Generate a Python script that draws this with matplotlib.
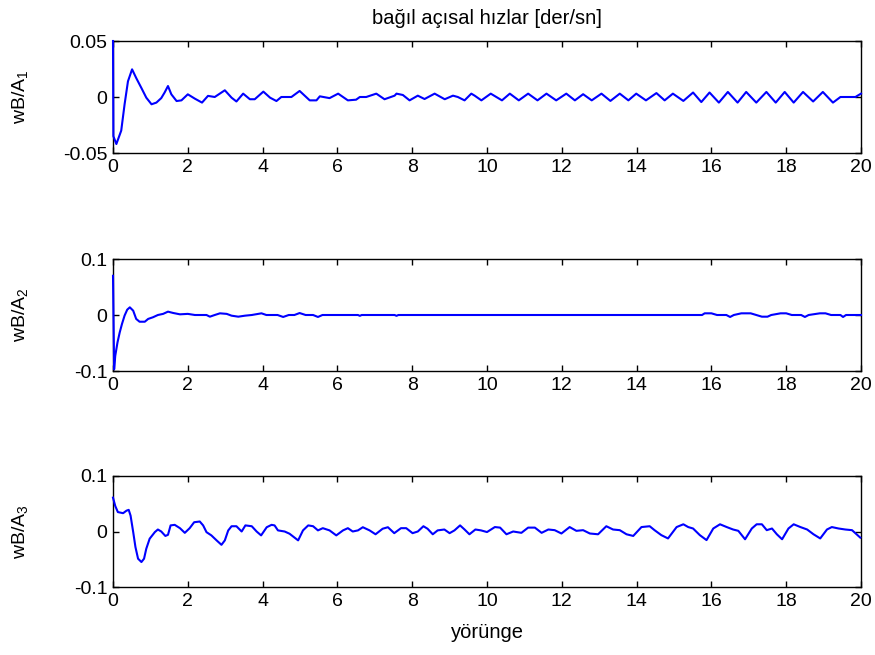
import matplotlib
matplotlib.use("Agg")
import matplotlib.pyplot as plt

plt.rcParams['font.family'] = ['Liberation Sans', 'DejaVu Sans']
plt.rcParams['mathtext.fontset'] = 'custom'
plt.rcParams['mathtext.rm'] = 'Liberation Sans'
plt.rcParams['mathtext.it'] = 'Liberation Sans'
plt.rcParams['axes.unicode_minus'] = False

title = "bağıl açısal hızlar [der/sn]"
xlabel = "yörünge"
ylabels = [r"wB/A$_\mathrm{1}$", r"wB/A$_\mathrm{2}$", r"wB/A$_\mathrm{3}$"]
xticks = [0, 2, 4, 6, 8, 10, 12, 14, 16, 18, 20]
yticks1 = [-0.05, 0, 0.05]
ytick_labels1 = ["-0.05", "0", "0.05"]
yticks23 = [-0.1, 0, 0.1]
ytick_labels23 = ["-0.1", "0", "0.1"]

# panel 1
t1 = [0, 0.01, 0.09, 0.22, 0.31, 0.4, 0.51, 0.62, 0.76, 0.89, 1.03, 1.16, 1.29, 1.38, 1.47,
      1.56, 1.7, 1.83, 2.0, 2.19, 2.38, 2.54, 2.72, 2.99, 3.17, 3.3, 3.48, 3.66, 3.79, 4.02,
      4.2, 4.37, 4.5, 4.77, 4.99, 5.26, 5.44, 5.53, 5.79, 6.02, 6.28, 6.5, 6.6, 6.77, 7.04,
      7.26, 7.53, 7.58, 7.75, 7.93, 8.15, 8.33, 8.6, 8.87, 9.09, 9.22, 9.4, 9.58, 9.67, 9.85,
      10.1, 10.4, 10.61, 10.85, 11.1, 11.35, 11.59, 11.85, 12.12, 12.35, 12.57, 12.8, 13.06,
      13.3, 13.55, 13.78, 13.99, 14.25, 14.53, 14.75, 14.97, 15.25, 15.51, 15.73, 15.95, 16.2,
      16.44, 16.7, 16.93, 17.2, 17.47, 17.72, 17.96, 18.2, 18.45, 18.72, 18.98, 19.25, 19.45,
      19.85, 20.0]
w1 = [0.05, -0.035, -0.042, -0.03, -0.0065, 0.014, 0.0247, 0.017, 0.008, -0.0006, -0.0065,
      -0.005, -0.001, 0.004, 0.0098, 0.0024, -0.0036, -0.003, 0.0024, -0.0015, -0.005, 0.001,
      0, 0.006, -0.0006, -0.004, 0.003, -0.002, -0.002, 0.0048, -0.0006, -0.0036, 0, 0,
      0.0054, -0.003, -0.003, 0.0006, -0.001, 0.003, -0.003, -0.0024, 0, 0, 0.003, -0.002,
      0.0012, 0.003, 0.0018, -0.003, 0.0012, -0.0018, 0.003, -0.002, 0.0012, 0, -0.003, 0.003,
      0.0012, -0.003,
      0.003, -0.003, 0.003, -0.003, 0.003, -0.003, 0.003, -0.003, 0.003, -0.003, 0.0025,
      -0.003, 0.003, -0.0035, 0.003, -0.003, 0.003, -0.003, 0.0035, -0.003, 0.003, -0.0035,
      0.004, -0.0045, 0.004, -0.005, 0.0045, -0.005, 0.0045, -0.005, 0.0045, -0.005, 0.0045,
      -0.005, 0.0045, -0.004, 0.0045, -0.005, 0, 0, 0.003]

# panel 2
t2 = [0, 0.03, 0.06, 0.12, 0.18, 0.24, 0.31, 0.38, 0.45, 0.54, 0.62, 0.71, 0.85, 0.94, 1.07,
      1.2, 1.34, 1.47, 1.61, 1.79, 2.0, 2.19, 2.5, 2.59, 2.72, 2.86, 3.04, 3.17, 3.35, 3.53,
      3.71, 3.97, 4.1, 4.4, 4.55, 4.7, 4.85, 4.99, 5.15, 5.35, 5.48, 5.6, 6.55, 6.6, 6.65,
      7.53, 7.58, 7.63, 15.75, 15.82, 16.0, 16.15, 16.4, 16.5, 16.6, 16.8, 17.05, 17.2, 17.35,
      17.5, 17.6, 17.85, 18.0, 18.15, 18.4, 18.5, 18.6, 18.9, 19.05, 19.2, 19.45, 19.52, 19.6,
      20.0]
w2 = [0.07, -0.097, -0.073, -0.049, -0.031, -0.016, -0.001, 0.0095, 0.0137, 0.0077, -0.007,
      -0.012, -0.012, -0.007, -0.004, 0, 0.002, 0.006, 0.0036, 0.0012, 0.002, 0, 0, -0.003, 0,
      0.003, 0.002, -0.0012, -0.003, -0.0012, 0, 0.003, 0, 0, -0.0035, 0, 0, 0.0035, 0, 0,
      -0.0035, 0, 0, -0.0015, 0, 0, -0.0015, 0, 0, 0.003, 0.003, 0, 0, -0.0035, 0, 0.003,
      0.003, 0, -0.003, -0.003, 0, 0.003, 0.003, 0, 0, -0.0035, 0, 0.003, 0.003, 0, 0,
      -0.0035, 0, 0]

# panel 3
t3 = [0, 0.06, 0.13, 0.27, 0.36, 0.42, 0.47, 0.54, 0.6, 0.67, 0.76, 0.83, 0.89, 0.98, 1.12,
      1.2, 1.29, 1.4, 1.47, 1.54, 1.65, 1.79, 1.92, 2.05, 2.17, 2.32, 2.41, 2.5, 2.63, 2.77,
      2.9, 2.99, 3.08, 3.17, 3.3, 3.44, 3.54, 3.71, 3.84, 3.96, 4.11, 4.24, 4.32, 4.41, 4.59,
      4.72, 4.95, 5.08, 5.22, 5.35, 5.48, 5.61, 5.79, 5.97, 6.15, 6.28, 6.41, 6.55, 6.68, 6.86,
      7.02, 7.21, 7.35, 7.52, 7.7, 7.84, 8.01, 8.15, 8.3, 8.41, 8.55, 8.68, 8.86, 9.0, 9.13,
      9.28, 9.4, 9.53, 9.69, 9.84, 10.0, 10.21, 10.35, 10.52, 10.7, 10.92, 11.1, 11.28, 11.46,
      11.64, 11.81, 11.99, 12.21, 12.39, 12.57, 12.75, 12.97, 13.19, 13.37, 13.55, 13.73,
      13.91, 14.13, 14.35, 14.48, 14.66, 14.84, 15.07, 15.25, 15.38, 15.51, 15.69, 15.87,
      16.05, 16.23, 16.41, 16.58, 16.72, 16.9, 17.08, 17.21, 17.35, 17.48, 17.62, 17.75, 17.89,
      18.06, 18.2, 18.38, 18.56, 18.73, 18.91, 19.09, 19.22, 19.4, 19.58, 19.76, 19.98]
w3 = [0.061, 0.046, 0.035, 0.033, 0.0375, 0.039, 0.0286, -0.001, -0.028, -0.049, -0.055,
      -0.049, -0.031, -0.013, -0.001, 0.0036, 0, -0.008, -0.006, 0.011, 0.012, 0.006, -0.0024,
      0.006, 0.0167, 0.018, 0.011, -0.0012, -0.007, -0.016, -0.024, -0.016, 0.0018, 0.0095,
      0.0095, 0, 0.011, 0.0095, 0, -0.007, 0.0077, 0.012, 0.011, 0.002, 0, -0.004, -0.016,
      0.002, 0.011, 0.0095, 0.002, 0.006, 0.002, -0.007, 0.002, 0.006, 0, 0.002, 0.0077, 0.002,
      -0.005, 0.005, 0.0077, -0.003, 0.006, 0.006, -0.003, 0, 0.0095, 0.005, -0.005, 0.002,
      0.0036, -0.003, 0.002, 0.011, 0.0036, -0.005, 0.0036, 0.002, -0.001, 0.008, 0.007,
      -0.005, 0, -0.0024, 0.007, 0.007, -0.0024, 0.0036, 0.0024, -0.0036, 0.008, 0.0012,
      0.0024, -0.0036, -0.005, 0.0095, 0.0036, 0.0024, -0.005, -0.008, 0.008, 0.0095, 0.0024,
      -0.0065, -0.0125, 0.008, 0.013, 0.008, 0.0054, -0.0065, -0.0155, 0.0054, 0.013, 0.008,
      0.0036, 0.0012, -0.014, 0.0054, 0.013, 0.013, 0.0024, 0.0054, -0.005, -0.014, 0.0054,
      0.013, 0.008, 0.0036, -0.005, -0.0125, 0.0036, 0.008, 0.0054, 0.0036, 0.0024, -0.011]

W, H = 875, 655
fig = plt.figure(figsize=(W / 100, H / 100), dpi=100)
left = 113 / W
width = (861 - 113) / W
rows = [(41, 153), (259, 371), (476, 587)]
series = [(t1, w1), (t2, w2), (t3, w3)]
ylims = [(-0.05, 0.05), (-0.1, 0.1), (-0.1, 0.1)]
yt = [(yticks1, ytick_labels1), (yticks23, ytick_labels23), (yticks23, ytick_labels23)]

axes = []
for i, ((top, bot), (tt, ww)) in enumerate(zip(rows, series)):
    ax = fig.add_axes([left, 1 - bot / H, width, (bot - top) / H])
    ax.plot(tt, ww, color=(0, 0, 1), linewidth=1.5, zorder=3, clip_on=False)
    ax.set_xlim(0, 20)
    ax.set_ylim(*ylims[i])
    ax.set_xticks(xticks)
    ax.set_xticklabels([str(x) for x in xticks])
    ax.set_yticks(yt[i][0])
    ax.set_yticklabels(yt[i][1])
    ax.tick_params(direction='in', top=True, right=True, length=4.5, width=1,
                   labelsize=14, pad=4)
    for s in ax.spines.values():
        s.set_linewidth(1)
    ax.set_ylabel(ylabels[i], fontsize=14)
    ax.yaxis.set_label_coords(-0.111, 0.5)
    axes.append(ax)

axes[0].set_title(title, fontsize=14.5, pad=12)
axes[2].set_xlabel(xlabel, fontsize=14.5, labelpad=10)

fig.savefig("out.png", dpi=100)
